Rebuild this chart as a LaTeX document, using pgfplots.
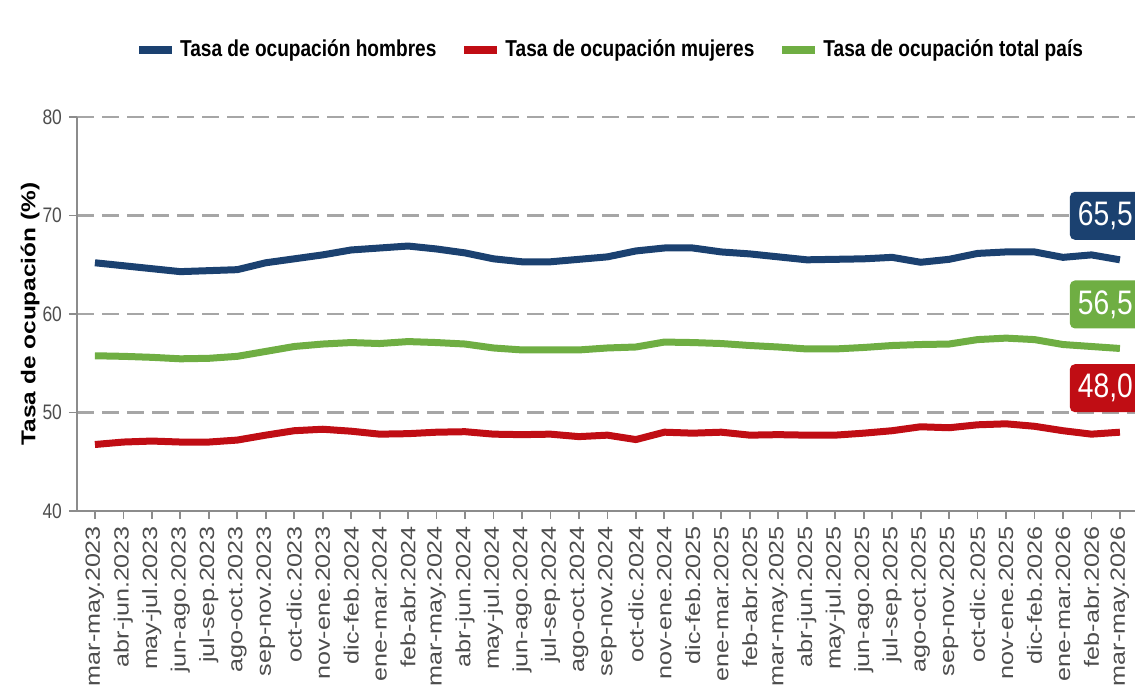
\documentclass[border=0pt]{standalone}
\usepackage{fontspec}
\setmainfont{Liberation Sans}
\newfontfamily\narrowfont{Liberation Sans}[FakeStretch=0.83]
\newfontfamily\widefont{Liberation Sans}[FakeStretch=1.22]
\usepackage{pgfplots}
\pgfplotsset{compat=1.18}
\usepackage{pgfplotstable}
\usetikzlibrary{calc}

\definecolor{hombres}{HTML}{1B4170}
\definecolor{mujeres}{HTML}{C00D14}
\definecolor{total}{HTML}{6FAE43}
\definecolor{gridgray}{HTML}{A6A6A6}
\definecolor{axisgray}{HTML}{8C8C8C}
\definecolor{ticktext}{HTML}{4D4D4D}

% tasa de ocupacion por trimestre movil
\pgfplotstableread{
idx hombres mujeres total
0  65.2  46.75 55.76
1  64.9  47.0  55.7
2  64.6  47.1  55.6
3  64.3  47.0  55.45
4  64.4  47.0  55.5
5  64.5  47.2  55.7
6  65.2  47.7  56.2
7  65.6  48.15 56.7
8  66.0  48.3  56.95
9  66.5  48.1  57.1
10 66.7  47.8  57.0
11 66.9  47.85 57.2
12 66.6  48.0  57.1
13 66.2  48.05 56.95
14 65.6  47.8  56.55
15 65.3  47.75 56.35
16 65.3  47.8  56.35
17 65.55 47.55 56.35
18 65.8  47.7  56.55
19 66.4  47.25 56.65
20 66.7  48.0  57.15
21 66.7  47.9  57.1
22 66.3  48.0  57.0
23 66.1  47.7  56.8
24 65.8  47.75 56.65
25 65.5  47.7  56.45
26 65.55 47.7  56.45
27 65.6  47.9  56.6
28 65.75 48.15 56.8
29 65.25 48.55 56.9
30 65.55 48.45 56.95
31 66.15 48.75 57.4
32 66.3  48.85 57.55
33 66.3  48.6  57.4
34 65.75 48.15 56.9
35 66.0  47.8  56.7
36 65.5  48.0  56.5
}\datos

\tikzset{
  labelbox/.style={fill=#1, text=white, rounded corners=2.5pt, anchor=west,
    xshift=-26.75pt, yshift=22pt, minimum height=24pt, inner xsep=4pt,
    font=\narrowfont\fontsize{17}{17}\selectfont}
}

\begin{document}
\begin{tikzpicture}
\begin{axis}[
  width=529pt, height=197pt, scale only axis,
  xmin=-0.63, xmax=36.53,
  ymin=40, ymax=80,
  axis x line*=bottom, axis y line*=left,
  axis line style={axisgray, line width=0.9pt},
  tick align=outside,
  major tick length=4pt,
  tick style={axisgray, line width=0.9pt},
  ytick={50,60,70,80},
  extra y ticks={40},
  extra y tick style={grid=none},
  ymajorgrids,
  grid style={gridgray, line width=1.4pt, dash pattern=on 8.5pt off 4pt},
  xtick={0,...,36},
  xticklabels={mar-may.2023,abr-jun.2023,may-jul.2023,jun-ago.2023,jul-sep.2023,
    ago-oct.2023,sep-nov.2023,oct-dic.2023,nov-ene.2023,dic-feb.2024,ene-mar.2024,
    feb-abr.2024,mar-may.2024,abr-jun.2024,may-jul.2024,jun-ago.2024,jul-sep.2024,
    ago-oct.2024,sep-nov.2024,oct-dic.2024,nov-ene.2024,dic-feb.2025,ene-mar.2025,
    feb-abr.2025,mar-may.2025,abr-jun.2025,may-jul.2025,jun-ago.2025,jul-sep.2025,
    ago-oct.2025,sep-nov.2025,oct-dic.2025,nov-ene.2025,dic-feb.2026,ene-mar.2026,
    feb-abr.2026,mar-may.2026},
  xticklabel style={rotate=90, anchor=east, text=ticktext,
    font=\widefont\fontsize{10.3}{10.3}\selectfont},
  yticklabel style={text=ticktext, font=\narrowfont\fontsize{10.5}{10.5}\selectfont},
  /pgf/number format/assume math mode=true,
  ylabel={Tasa de ocupación (\%)},
  y label style={at={(axis description cs:-0.0444,0.5)}, anchor=center,
    font=\widefont\bfseries\fontsize{10}{10}\selectfont},
  legend style={at={(axis description cs:0.5,1)}, anchor=center,
    xshift=2.5pt, yshift=33.5pt, draw=none, fill=none,
    font=\narrowfont\bfseries\fontsize{11.5}{11.5}\selectfont,
    /tikz/every even column/.append style={column sep=10pt}},
  legend columns=3,
  legend image code/.code={\draw[#1, line width=4pt, line cap=butt] (0pt,0pt) -- (16.5pt,0pt);},
  every axis plot/.append style={line width=3.5pt, line join=round, no markers},
]
\addplot[hombres] table[x=idx, y=hombres] {\datos}
  node[pos=1, labelbox=hombres] {65,5};
\addlegendentry{Tasa de ocupación hombres}
\addplot[mujeres] table[x=idx, y=mujeres] {\datos}
  node[pos=1, labelbox=mujeres] {48,0};
\addlegendentry{Tasa de ocupación mujeres}
\addplot[total] table[x=idx, y=total] {\datos}
  node[pos=1, labelbox=total] {56,5};
\addlegendentry{Tasa de ocupación total país}
\end{axis}
\pgfresetboundingbox
\path[use as bounding box] ($(current axis.south west)+(-38.5pt,-91pt)$)
  rectangle ($(current axis.north east)+(0pt,58.5pt)$);
\end{tikzpicture}
\end{document}
